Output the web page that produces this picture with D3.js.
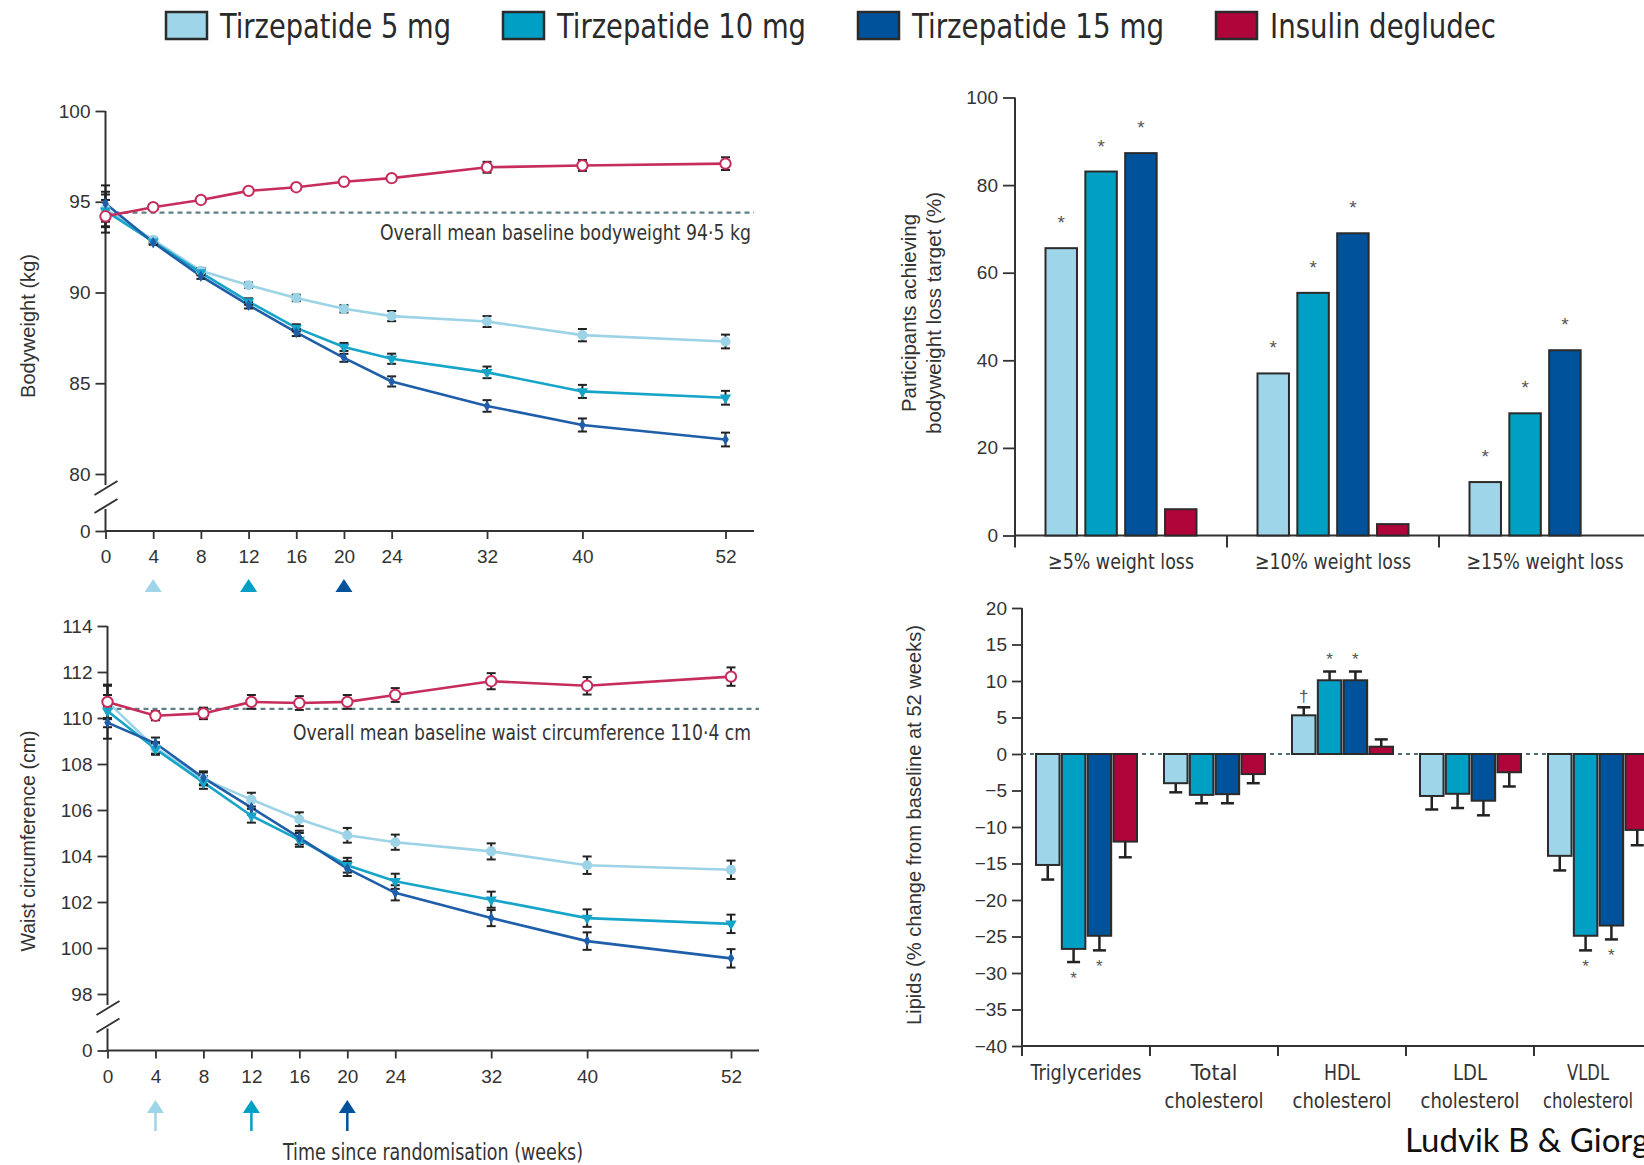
<!DOCTYPE html>
<html>
<head>
<meta charset="utf-8">
<script src="https://cdn.jsdelivr.net/npm/d3@7"></script>
<title>Tirzepatide vs insulin degludec</title>
<style>
    body { margin: 0; background: #fff; }
    svg { display: block; }
</style>
</head>
<body>
<div id="chart"></div>
<script>
// ---- values ----
const series = ["Tirzepatide 5 mg", "Tirzepatide 10 mg", "Tirzepatide 15 mg", "Insulin degludec"];
const weeks = [0, 4, 8, 12, 16, 20, 24, 32, 40, 52];
const doseWeeks = [4, 12, 20];

// bodyweight (kg)
const bw5   = [94.6, 92.9, 91.2, 90.4, 89.7, 89.1, 88.7, 88.4, 87.65, 87.3];
const bw10  = [94.5, 92.8, 91.1, 89.5, 88.05, 87.0, 86.35, 85.6, 84.55, 84.2];
const bw15  = [94.9, 92.75, 90.9, 89.3, 87.8, 86.4, 85.1, 83.75, 82.7, 81.9];
const bwIns = [94.2, 94.7, 95.1, 95.6, 95.8, 96.1, 96.3, 96.9, 97.0, 97.1];
const bwSe5   = [0.95, 0.12, 0.15, 0.15, 0.18, 0.2, 0.28, 0.3, 0.34, 0.38];
const bwSe10  = [0.9, 0.12, 0.15, 0.18, 0.2, 0.22, 0.28, 0.32, 0.36, 0.38];
const bwSe15  = [1.0, 0.12, 0.15, 0.18, 0.2, 0.22, 0.28, 0.32, 0.36, 0.38];
const bwSeIns = [0.9, 0.15, 0.15, 0.15, 0.15, 0.15, 0.15, 0.3, 0.3, 0.35];
const bwTicks = [0, 80, 85, 90, 95, 100];
const bwBaseline = 94.4;

// waist circumference (cm)
const waist5   = [110.7, 108.7, 107.35, 106.45, 105.6, 104.9, 104.6, 104.2, 103.6, 103.4];
const waist10  = [110.3, 108.65, 107.2, 105.75, 104.7, 103.6, 102.9, 102.1, 101.3, 101.05];
const waist15  = [109.8, 108.9, 107.4, 106.1, 104.8, 103.45, 102.4, 101.3, 100.3, 99.55];
const waistIns = [110.7, 110.1, 110.2, 110.7, 110.65, 110.7, 111.0, 111.6, 111.4, 111.8];
const waistSe5   = [0.7, 0.25, 0.28, 0.3, 0.3, 0.32, 0.33, 0.35, 0.38, 0.4];
const waistSe10  = [0.7, 0.25, 0.28, 0.3, 0.3, 0.32, 0.33, 0.35, 0.38, 0.4];
const waistSe15  = [0.7, 0.25, 0.28, 0.3, 0.3, 0.32, 0.33, 0.35, 0.38, 0.4];
const waistSeIns = [0.75, 0.2, 0.25, 0.3, 0.3, 0.3, 0.3, 0.35, 0.38, 0.4];
const waistTicks = [0, 98, 100, 102, 104, 106, 108, 110, 112, 114];
const waistBaseline = 110.4;

// participants achieving weight loss target (%)
const wlCats  = ["≥5% weight loss", "≥10% weight loss", "≥15% weight loss"];
const wl5     = [65.6, 37.0, 12.2];
const wl10    = [83.1, 55.4, 27.9];
const wl15    = [87.3, 69.0, 42.3];
const wlIns   = [6.0, 2.6, 0];
const wlSig5  = ["*", "*", "*"];
const wlSig10 = ["*", "*", "*"];
const wlSig15 = ["*", "*", "*"];
const wlSigIns = ["", "", ""];
const wlTicks = [0, 20, 40, 60, 80, 100];

// lipids (% change from baseline at 52 weeks)
const lipCats  = ["Triglycerides", "Total cholesterol", "HDL cholesterol", "LDL cholesterol", "VLDL cholesterol"];
const lipLines = [["Triglycerides"], ["Total", "cholesterol"], ["HDL", "cholesterol"], ["LDL", "cholesterol"], ["VLDL", "cholesterol"]];
const lip5     = [-15.2, -4.0, 5.3, -5.75, -13.95];
const lip10    = [-26.7, -5.6, 10.1, -5.45, -24.9];
const lip15    = [-24.9, -5.5, 10.1, -6.4, -23.5];
const lipIns   = [-12.0, -2.75, 1.0, -2.5, -10.4];
const lipSe5   = [2.0, 1.25, 1.1, 1.85, 2.0];
const lipSe10  = [1.8, 1.15, 1.2, 1.95, 2.0];
const lipSe15  = [2.0, 1.25, 1.2, 2.0, 1.9];
const lipSeIns = [2.15, 1.25, 1.0, 1.95, 2.1];
const lipSig5  = ["", "", "†", "", ""];
const lipSig10 = ["*", "", "*", "", "*"];
const lipSig15 = ["*", "", "*", "", "*"];
const lipSigIns = ["", "", "", "", ""];
const lipTicks = [20, 15, 10, 5, 0, -5, -10, -15, -20, -25, -30, -35, -40];

// ---- styling ----
const fill = ["#9fd5e8", "#00a0c4", "#00539b", "#b0053a"];
const lineCol = ["#9dd3e6", "#16a5c8", "#1f5ea8", "#c72d5c"];
const ink = "#333";
const fontCond = "'Liberation Sans Narrow','DejaVu Sans Condensed','Arial Narrow',sans-serif";
const fontReg = "'Liberation Sans',Arial,sans-serif";

const svg = d3.select("#chart").append("svg").attr("width", 1644).attr("height", 1165);

function fit(sel, w) {
    return sel.attr("textLength", w).attr("lengthAdjust", "spacingAndGlyphs");
}
function styleAxis(g) {
    g.attr("font-family", fontReg).attr("font-size", 19);
    g.select(".domain").remove();
    g.selectAll(".tick line").attr("stroke", ink).attr("stroke-width", 1.8);
    g.selectAll(".tick text").attr("fill", ink);
}
function hline(g, x1, x2, y, w) {
    return g.append("line").attr("x1", x1).attr("x2", x2).attr("y1", y).attr("y2", y)
        .attr("stroke", ink).attr("stroke-width", w || 2);
}
function vline(g, x, y1, y2, w) {
    return g.append("line").attr("x1", x).attr("x2", x).attr("y1", y1).attr("y2", y2)
        .attr("stroke", ink).attr("stroke-width", w || 2);
}
function rotTitle(lines, x, y, w) {
    lines.forEach((t, i) => {
        fit(svg.append("text")
            .attr("transform", `translate(${x[i]},${y}) rotate(-90)`)
            .attr("text-anchor", "middle").attr("dominant-baseline", "central")
            .attr("font-family", fontReg).attr("font-size", 20).attr("fill", ink)
            .text(t), w[i]);
    });
}

// ---- legend ----
let lx = 166;
const legendW = [231, 249, 252, 226];
series.forEach((s, i) => {
    svg.append("rect").attr("x", lx).attr("y", 12).attr("width", 41).attr("height", 27)
        .attr("fill", fill[i]).attr("stroke", "#2b2b2b").attr("stroke-width", 2.5);
    fit(svg.append("text").attr("x", lx + 54).attr("y", 37.5)
        .attr("font-family", fontCond).attr("font-size", 33).attr("fill", "#2a2a2a")
        .text(s), legendW[i]);
    lx += 54 + legendW[i] + 52;
});

// ---- line charts ----
function lineChart(c) {
    const g = svg.append("g");
    const x = d3.scaleLinear().domain([0, 52]).range(c.xRange);
    const y = d3.scaleLinear().domain(c.yDomain).range(c.yRange);
    const ax = x(0), base = y(0);

    const xa = g.append("g").attr("transform", `translate(0,${base})`)
        .call(d3.axisBottom(x).tickValues(weeks).tickSize(8).tickPadding(c.xPad));
    styleAxis(xa);
    hline(g, ax, c.xEnd, base);

    const ya = g.append("g").attr("transform", `translate(${ax},0)`)
        .call(d3.axisLeft(y).tickValues(c.yTicks).tickSize(10).tickPadding(5));
    styleAxis(ya);
    const yLow = y(c.yDomain[1]);
    vline(g, ax, y(c.yDomain[2]), yLow + 11);
    vline(g, ax, base - 22, base);
    [yLow + 14, base - 25].forEach(cy => {
        g.append("line").attr("x1", ax - 11).attr("x2", ax + 12)
            .attr("y1", cy + 7).attr("y2", cy - 7)
            .attr("stroke", ink).attr("stroke-width", 2);
    });

    // overall baseline
    g.append("line").attr("x1", ax).attr("x2", c.xEnd)
        .attr("y1", y(c.baseline)).attr("y2", y(c.baseline))
        .attr("stroke", "#5f7f88").attr("stroke-width", 2.2).attr("stroke-dasharray", "5,4");
    fit(g.append("text").attr("x", 751).attr("y", y(c.baseline) + c.noteDy)
        .attr("text-anchor", "end").attr("dominant-baseline", "central")
        .attr("font-family", fontCond).attr("font-size", 21).attr("fill", ink)
        .text(c.note), c.noteW);

    const pts = c.values.map((vals, i) => weeks.map((w, j) => ({ w, v: vals[j], se: c.se[i][j], i })));
    const line = d3.line().x(d => x(d.w)).y(d => y(d.v));
    pts.forEach((p, i) => {
        g.append("path").attr("d", line(p)).attr("fill", "none")
            .attr("stroke", lineCol[i]).attr("stroke-width", 2.6);
    });
    pts.flat().forEach(d => {
        const cx = x(d.w);
        vline(g, cx, y(d.v - d.se), y(d.v + d.se), 2).attr("stroke", "#222");
        hline(g, cx - 4.5, cx + 4.5, y(d.v - d.se), 2).attr("stroke", "#222");
        hline(g, cx - 4.5, cx + 4.5, y(d.v + d.se), 2).attr("stroke", "#222");
    });
    const sym = [d3.symbolCircle, d3.symbolTriangle, d3.symbolDiamond, d3.symbolCircle];
    const size = [80, 55, 38, 85];
    pts.forEach((p, i) => {
        g.selectAll(null).data(p).join("path")
            .attr("d", d3.symbol(sym[i], size[i]))
            .attr("transform", d => `translate(${x(d.w)},${y(d.v)})` + (i === 1 ? " rotate(180)" : ""))
            .attr("fill", i === 3 ? "#fff" : lineCol[i])
            .attr("stroke", i === 3 ? lineCol[3] : "none")
            .attr("stroke-width", 2);
    });

    // weeks at which each maintenance dose was reached
    doseWeeks.forEach((w, i) => {
        const cx = x(w);
        g.append("path")
            .attr("d", `M${cx},${c.doseY} L${cx - 8.5},${c.doseY + 13} L${cx + 8.5},${c.doseY + 13} Z`)
            .attr("fill", fill[i]);
        if (c.shaft) {
            g.append("line").attr("x1", cx).attr("x2", cx)
                .attr("y1", c.doseY + 12).attr("y2", c.doseY + 31)
                .attr("stroke", fill[i]).attr("stroke-width", 2.5);
        }
    });
    return x;
}

lineChart({
    xRange: [105.5, 725.5], xEnd: 754, xPad: 11,
    yDomain: [0, 80, 100], yRange: [531, 474, 111], yTicks: bwTicks,
    values: [bw5, bw10, bw15, bwIns], se: [bwSe5, bwSe10, bwSe15, bwSeIns],
    baseline: bwBaseline, note: "Overall mean baseline bodyweight 94·5 kg", noteW: 371, noteDy: 20,
    doseY: 579, shaft: false
});
rotTitle(["Bodyweight (kg)"], [28], 326, [144]);

lineChart({
    xRange: [107.5, 731], xEnd: 759, xPad: 11,
    yDomain: [0, 98, 114], yRange: [1050.5, 994, 626], yTicks: waistTicks,
    values: [waist5, waist10, waist15, waistIns], se: [waistSe5, waistSe10, waistSe15, waistSeIns],
    baseline: waistBaseline, note: "Overall mean baseline waist circumference 110·4 cm", noteW: 458, noteDy: 24,
    doseY: 1100, shaft: true
});
rotTitle(["Waist circumference (cm)"], [28], 841, [221]);
fit(svg.append("text").attr("x", 433).attr("y", 1152)
    .attr("text-anchor", "middle").attr("dominant-baseline", "central")
    .attr("font-family", fontCond).attr("font-size", 23).attr("fill", ink)
    .text("Time since randomisation (weeks)"), 300);

// ---- grouped bar charts ----
function barChart(c) {
    const g = svg.append("g");
    const y = d3.scaleLinear().domain(c.yDomain).range(c.yRange);
    const x0 = d3.scaleBand().domain(c.cats).range([c.axisX, c.axisX + c.groupW * c.cats.length]);
    const x1 = d3.scaleBand().domain(series).range(c.inner).paddingInner(c.pad);
    const axisY = y(c.yDomain[0]);

    const ya = g.append("g").attr("transform", `translate(${c.axisX},0)`)
        .call(d3.axisLeft(y).tickValues(c.ticks).tickSize(c.tick).tickPadding(5));
    styleAxis(ya);
    vline(g, c.axisX, y(c.yDomain[1]), axisY + c.tick);
    hline(g, c.axisX, 1644, axisY);
    c.cats.forEach((k, i) => { if (i > 0) vline(g, x0(k), axisY, axisY + c.tick); });

    if (c.zeroLine) {
        g.append("line").attr("x1", c.axisX).attr("x2", 1644).attr("y1", y(0)).attr("y2", y(0))
            .attr("stroke", "#4f6f78").attr("stroke-width", 2).attr("stroke-dasharray", "4,4");
    }

    c.cats.forEach((k, ci) => {
        series.forEach((s, si) => {
            const v = c.values[si][ci];
            if (v === 0) return;
            const bx = x0(k) + x1(s), bw = x1.bandwidth();
            if (c.se) {
                const tip = v + Math.sign(v) * c.se[si][ci];
                vline(g, bx + bw / 2, y(v), y(tip), 2.5).attr("stroke", "#222");
                hline(g, bx + bw / 2 - 6.5, bx + bw / 2 + 6.5, y(tip), 2.5).attr("stroke", "#222");
            }
            g.append("rect").attr("x", bx).attr("width", bw)
                .attr("y", y(Math.max(0, v))).attr("height", Math.abs(y(v) - y(0)))
                .attr("fill", fill[si]).attr("stroke", "#2b2b2b").attr("stroke-width", 2);
            const mark = c.sig[si][ci];
            if (mark) {
                const tip = c.se ? v + Math.sign(v) * c.se[si][ci] : v;
                const up = v > 0;
                const cy = up ? y(tip) - (mark === "*" ? c.sigGap : 11) : y(tip) + 12;
                g.append("text").attr("x", bx + bw / 2)
                    .attr("y", mark === "*" ? cy + c.sigSize * 0.58 : cy + c.sigSize * 0.35)
                    .attr("text-anchor", "middle")
                    .attr("font-family", fontReg).attr("font-size", c.sigSize)
                    .attr("fill", "#555").text(mark);
            }
        });
        c.labels[ci].forEach((t, li) => {
            fit(g.append("text").attr("x", x0(k) + c.groupW / 2 + c.labelDx[ci])
                .attr("y", c.labelY + li * 28).attr("text-anchor", "middle").attr("dominant-baseline", "central")
                .attr("font-family", fontCond).attr("font-size", 22).attr("fill", ink)
                .text(t), c.labelW[ci][li]);
        });
    });
}

barChart({
    cats: wlCats, values: [wl5, wl10, wl15, wlIns], sig: [wlSig5, wlSig10, wlSig15, wlSigIns],
    yDomain: [0, 100], yRange: [535.5, 97.5], ticks: wlTicks, tick: 12,
    axisX: 1015, groupW: 212, inner: [30.5, 181.5], pad: 0.21,
    sigGap: 30, sigSize: 19,
    labels: wlCats.map(d => [d]), labelW: [[146], [156], [157]], labelY: 561, labelDx: [0, 0, 0]
});
rotTitle(["Participants achieving", "bodyweight loss target (%)"], [909, 934], 313, [198, 242]);

barChart({
    cats: lipCats, values: [lip5, lip10, lip15, lipIns], se: [lipSe5, lipSe10, lipSe15, lipSeIns],
    sig: [lipSig5, lipSig10, lipSig15, lipSigIns],
    yDomain: [-40, 20], yRange: [1046, 608], ticks: lipTicks, tick: 10,
    axisX: 1022, groupW: 128, inner: [14, 115], pad: 0.09, zeroLine: true,
    sigGap: 16, sigSize: 17,
    labels: lipLines, labelW: [[111], [47, 99], [36, 99], [34, 99], [42, 90]], labelY: 1072,
    labelDx: [0, 0, 0, 0, -10]
});
rotTitle(["Lipids (% change from baseline at 52 weeks)"], [914], 825, [400]);

svg.append("text").attr("x", 1405).attr("y", 1152)
    .attr("font-family", "Lato, 'Open Sans', sans-serif").attr("font-size", 33).attr("fill", "#111")
    .text("Ludvik B & Giorgino F");
</script>
</body>
</html>
